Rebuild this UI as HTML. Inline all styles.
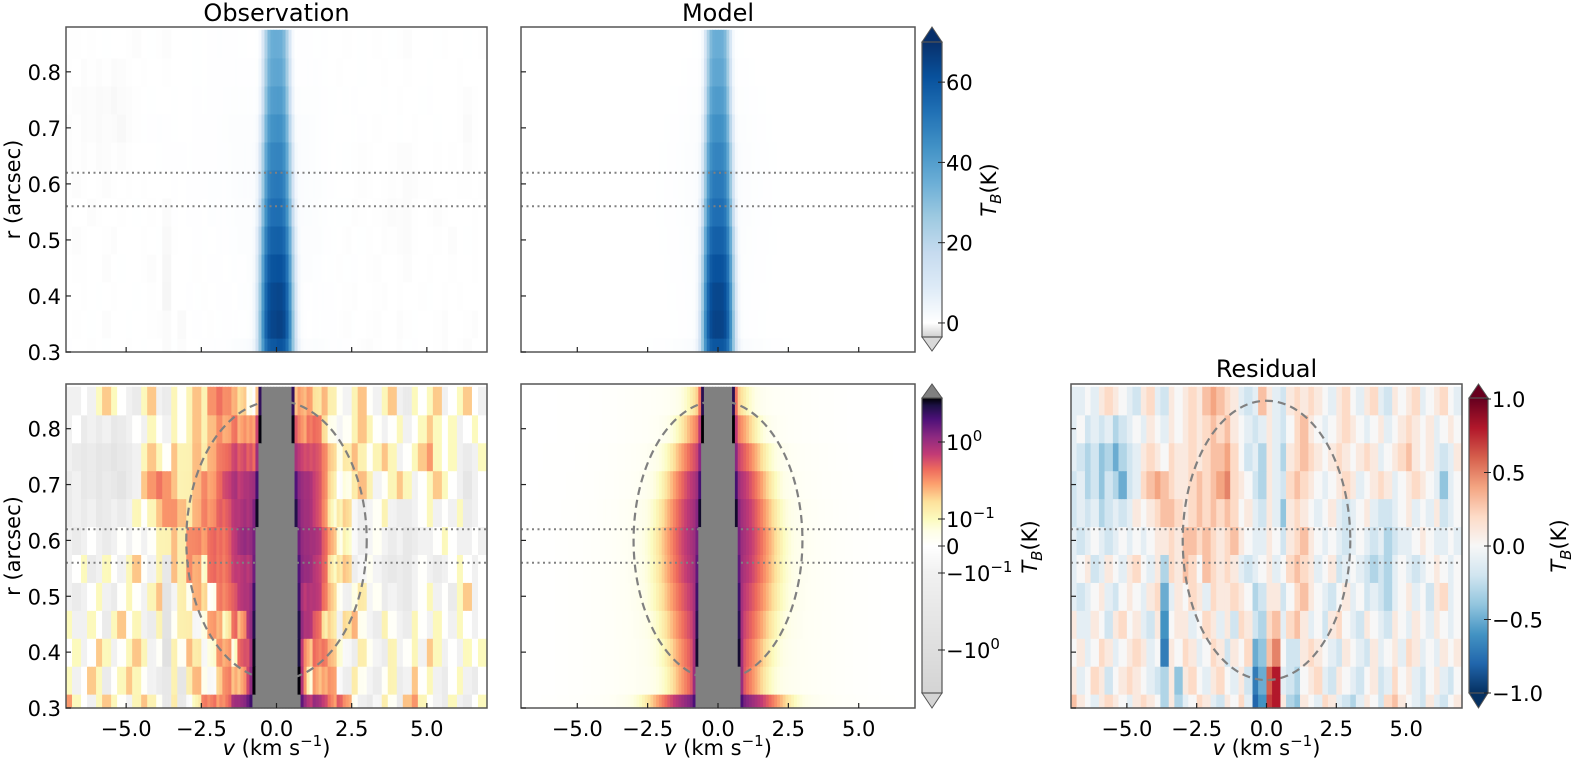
<!DOCTYPE html>
<html><head><meta charset="utf-8">
<style>
html,body{margin:0;padding:0;background:#fff;}
svg{display:block;font-family:"DejaVu Sans","Liberation Sans",sans-serif;}
</style></head>
<body>
<svg id="fig" xmlns="http://www.w3.org/2000/svg" width="1578" height="762" viewBox="0 0 1578 762">
</svg>
<script>
// ---- data ----
const rowR = [0.30,0.35,0.40,0.45,0.50,0.55,0.60,0.65,0.70,0.75,0.80,0.85];
// saturated core component (K) and half-width (km/s) per row
const coreAmp = [58,64,63,60,56,52,49,46,43,40,37,35];
const coreWid = [0.58,0.57,0.56,0.55,0.54,0.52,0.50,0.49,0.47,0.45,0.44,0.43];
// broad wing component per row
const wingAmp = [1.9,0.9,0.9,1.0,1.1,1.3,1.4,1.4,1.3,0.9,0.6,0.35];
const wingSig = [1.05,0.8,0.85,0.9,0.95,0.95,0.95,0.9,0.85,0.8,0.7,0.6];
// faint extended floor per row
const floorAmp = [0.06,0.05,0.05,0.05,0.05,0.05,0.05,0.05,0.04,0.04,0.03,0.03];
const floorSig = [2.6,2.5,2.5,2.5,2.5,2.5,2.5,2.4,2.4,2.3,2.2,2.2];
// residual (tenths of K), 56 channels of 0.25 km/s from -7 to 7, row 0 = r 0.3
const residualTenths = [
[3,1,0,-1,1,2,1,0,-1,1,2,1,0,-3,1,-3,-1,0,2,1,-1,-2,1,0,2,-1,-8,-6,7,8,1,-3,-4,1,0,-1,2,1,-1,-2,-3,-1,1,0,-2,2,3,1,0,-1,-2,1,-1,-2,0,1],
[1,-1,0,2,1,-2,0,1,2,1,0,-1,-2,-3,1,-4,1,2,0,-1,1,2,0,-1,1,-2,-7,-5,6,8,-1,-2,-3,0,1,2,-1,-2,1,0,-1,-2,0,1,-2,-1,2,0,1,-1,-2,0,1,-1,-2,0],
[0,1,-1,0,2,1,-1,0,1,2,1,-1,0,-7,1,0,2,1,-1,0,2,1,-2,1,0,2,-5,-4,3,5,0,-2,-2,1,2,1,0,-1,-2,1,0,-1,-2,1,-1,0,1,-1,2,1,-1,0,-1,1,0,1],
[1,-1,-1,1,0,-2,1,2,0,1,-1,-2,1,-6,0,1,1,-1,0,2,1,-1,1,-2,2,1,-2,-3,2,3,-1,2,3,1,-1,0,-2,1,2,0,-1,-2,1,0,-1,-2,1,0,-1,1,0,-1,1,0,-1,0],
[-1,-2,-1,0,1,-1,-2,0,1,0,-1,1,2,-5,-1,1,0,2,1,-1,2,1,1,2,1,0,-3,-2,1,1,-2,0,2,3,1,0,-1,-2,0,1,-1,0,-2,-1,-2,-3,-1,0,1,-1,0,-2,1,2,-1,0],
[-1,0,1,-2,-1,1,0,-1,1,2,0,-1,1,-3,2,1,3,2,0,3,2,1,2,1,-1,-2,-1,0,1,-1,0,2,3,2,1,-1,0,1,-2,-1,0,-1,-2,-3,-2,-3,-1,0,-1,-2,-1,0,1,0,-1,0],
[-1,-2,-1,0,-1,-2,-1,0,-1,0,-1,0,1,1,2,1,3,3,2,3,2,1,2,3,1,0,-1,-1,1,0,-2,1,2,3,1,0,-1,0,-1,-2,-1,0,-1,-2,-1,-3,-2,-1,-1,0,1,0,-1,-1,0,-1],
[-2,-1,-2,-1,-3,-2,-1,-2,-1,1,0,1,2,3,3,2,1,2,3,2,3,2,3,2,0,1,-1,-2,1,-1,-4,1,2,1,0,-1,0,1,-1,-2,-1,0,1,-1,-2,-2,-1,0,1,-1,0,-1,1,-2,-1,0],
[-2,-1,-3,-2,-4,-2,-3,-5,-2,-1,2,3,4,3,2,1,1,2,3,2,3,4,5,2,1,0,-2,-3,1,-1,-2,2,3,2,1,0,-1,0,1,2,1,-1,0,1,2,1,-1,0,1,2,1,0,-1,-4,-1,0],
[-1,-2,-3,-2,-4,-3,-5,-3,-2,-1,1,2,1,0,2,1,1,2,1,2,3,3,4,2,0,-2,-1,-3,1,-1,-3,1,2,3,2,1,0,1,2,1,0,1,2,1,-1,0,1,2,3,1,0,1,-1,-2,-1,1],
[-1,0,-2,-1,-2,-1,-3,-2,-1,0,-1,1,0,-1,1,0,1,2,1,2,3,2,3,1,0,-1,-2,-1,1,-1,-2,0,2,3,1,0,-1,0,1,2,1,0,-1,0,1,-1,0,1,2,1,0,1,-1,0,1,0],
[-1,-1,0,-1,1,2,1,0,-1,-2,1,2,-1,-2,1,0,1,2,1,3,4,3,2,1,-1,-2,-1,3,1,-1,-2,1,2,1,2,1,0,-1,1,2,0,-1,1,2,-1,-2,1,0,1,2,-1,0,1,2,0,-1]
];
const xTicks = [-5,-2.5,0,2.5,5];
const xTickLabels = ["−5.0","−2.5","0.0","2.5","5.0"];
const yTicks = [0.3,0.4,0.5,0.6,0.7,0.8];
const yTickLabels = ["0.3","0.4","0.5","0.6","0.7","0.8"];
const hLines = [0.62,0.56];
const ellipse = {v0:0, r0:0.6, av:3.0, ar:0.25};
const topCbTicks = [0,20,40,60];
const symCbTicks = [1,0.1,0,-0.1,-1];
const symCbLabels = ["10|0","10|−1","0","−10|−1","−10|0"];
const resCbTicks = [1,0.5,0,-0.5,-1];
const resCbLabels = ["1.0","0.5","0.0","−0.5","−1.0"];

// ---- geometry ----
const NS="http://www.w3.org/2000/svg";
const svg=document.getElementById('fig');
const VMIN=-7,VMAX=7,RMIN=0.3,RMAX=0.88;
const FS=21;
const panels={
 obsTop:{x0:66,x1:487,y0:27,y1:352},
 modTop:{x0:521,x1:915,y0:27,y1:352},
 obsBot:{x0:66,x1:487,y0:384,y1:708},
 modBot:{x0:521,x1:915,y0:384,y1:708},
 res:{x0:1071,x1:1462,y0:384,y1:708}
};
function sx(p,v){return p.x0+(v-VMIN)/(VMAX-VMIN)*(p.x1-p.x0);}
function sy(p,r){return p.y1-(r-RMIN)/(RMAX-RMIN)*(p.y1-p.y0);}
function mk(tag,attrs,parent){const e=document.createElementNS(NS,tag);for(const k in attrs)e.setAttribute(k,attrs[k]);(parent||svg).appendChild(e);return e;}

// ---- colormaps ----
function hex(h){return [parseInt(h.substr(1,2),16),parseInt(h.substr(3,2),16),parseInt(h.substr(5,2),16)];}
function interp(stops,t){
 t=Math.max(0,Math.min(1,t));
 for(let i=1;i<stops.length;i++){if(t<=stops[i][0]){const a=stops[i-1],b=stops[i];const f=(t-a[0])/(b[0]-a[0]||1);const ca=hex(a[1]),cb=hex(b[1]);return 'rgb('+ca.map((c,k)=>Math.round(c+(cb[k]-c)*f)).join(',')+')';}}
 return stops[stops.length-1][1];
}
const blues=[[0,'#ffffff'],[0.125,'#deebf7'],[0.25,'#c6dbef'],[0.375,'#9ecae1'],[0.5,'#6baed6'],[0.625,'#4292c6'],[0.75,'#2171b5'],[0.875,'#08519c'],[1,'#08306b']];
function topColor(T){ if(T>=0) return interp(blues,T/70); return interp([[0,'#ffffff'],[1,'#d0d0d0']],-T/3.5);}
const magma=[[0,'#ffffff'],[0.1,'#fefee6'],[0.18,'#fcfbbf'],[0.3,'#fde19b'],[0.42,'#fca06e'],[0.52,'#ee6a5d'],[0.62,'#c33b75'],[0.74,'#8c2981'],[0.86,'#4c1078'],[0.95,'#1c1044'],[1,'#000004']];
const greys=[[0,'#ffffff'],[0.18,'#f1f1f1'],[1,'#d4d4d4']];
function symPos(x){const a=Math.abs(x);const p=a<=0.1?a/0.1*27:27+77*Math.log10(a/0.1);return x<0?-p:p;}
const SYM_TOP=symPos(3.7), SYM_BOT=-symPos(-3.5);
function symColor(T){const p=symPos(T);if(p>SYM_TOP)return '#808080';if(p>=0)return interp(magma,p/SYM_TOP);if(-p>SYM_BOT)return '#d0d0d0';return interp(greys,-p/SYM_BOT);}
const rdbu=[[0,'#053061'],[0.1,'#2166ac'],[0.2,'#4393c3'],[0.3,'#92c5de'],[0.4,'#d1e5f0'],[0.5,'#f7f7f7'],[0.6,'#fddbc7'],[0.7,'#f4a582'],[0.8,'#d6604d'],[0.9,'#b2182b'],[1,'#67001f']];
function resColor(x){return interp(rdbu,(x+1)/2);}

// ---- model / data ----
function model(v,k){
 const q=v/coreWid[k];
 return coreAmp[k]*Math.exp(-q*q*q*q)
  +wingAmp[k]*Math.exp(-v*v/(2*wingSig[k]*wingSig[k]))
  +floorAmp[k]*Math.exp(-v*v/(2*floorSig[k]*floorSig[k]));
}
function resid(v,k){let j=Math.floor((v-VMIN)/0.25);j=Math.max(0,Math.min(55,j));return residualTenths[k][j]/10;}

const NCH=140, DV=(VMAX-VMIN)/NCH;
function drawMap(name,p,valueFn,colorFn){
 const g=mk('g',{});
 
 
 for(let k=0;k<rowR.length;k++){
  const rA=Math.max(RMIN,rowR[k]-0.025), rB=Math.min(RMAX,rowR[k]+0.025);
  const yA=sy(p,rB), yB=sy(p,rA);
  for(let i=0;i<NCH;i++){
   const v=VMIN+DV*(i+0.5);
   const xa=sx(p,VMIN+DV*i), xb=sx(p,VMIN+DV*(i+1));
   const c=mk('rect',{x:xa.toFixed(2),y:yA.toFixed(2),width:(xb-xa+0.6).toFixed(2),height:(yB-yA+0.6).toFixed(2),fill:colorFn(valueFn(v,k))},g);
   
   
  }
 }
}
drawMap('observation-top',panels.obsTop,(v,k)=>model(v,k)+resid(v,k),topColor);
drawMap('model-top',panels.modTop,(v,k)=>model(v,k),topColor);
drawMap('observation-log',panels.obsBot,(v,k)=>model(v,k)+resid(v,k),symColor);
drawMap('model-log',panels.modBot,(v,k)=>model(v,k),symColor);
drawMap('residual',panels.res,(v,k)=>resid(v,k),resColor);

// ---- overlays, axes ----
function text(str,attrs,name){const t=mk('text',Object.assign({'font-size':FS,fill:'#000'},attrs));t.innerHTML=str;return t;}
const pk={obsTop:[true,false],modTop:[false,false],obsBot:[true,true],modBot:[false,true],res:[false,true]};
for(const key in panels){
 const p=panels[key];
 hLines.forEach(r=>{const l=mk('line',{x1:p.x0,x2:p.x1,y1:sy(p,r),y2:sy(p,r),stroke:'#808080','stroke-width':2,'stroke-dasharray':'2,3.5'});
  });
 if(key==='obsBot'||key==='modBot'||key==='res'){
  const cx=sx(p,ellipse.v0),cy=sy(p,ellipse.r0);
  const e=mk('ellipse',{cx:cx,cy:cy,rx:sx(p,ellipse.v0+ellipse.av)-cx,ry:cy-sy(p,ellipse.r0+ellipse.ar),fill:'none',stroke:'#808080','stroke-width':2.2,'stroke-dasharray':'8,5'});
  
 }
 const fr=mk('rect',{x:p.x0,y:p.y0,width:p.x1-p.x0,height:p.y1-p.y0,fill:'none',stroke:'#555','stroke-width':1.5});
 
 xTicks.forEach((v,i)=>{const x=sx(p,v);mk('line',{x1:x,x2:x,y1:p.y1,y2:p.y1-5,stroke:'#222','stroke-width':1.2});
  if(pk[key][1]) text(xTickLabels[i],{x:x,y:p.y1+28,'text-anchor':'middle'},'x-tick-label');});
 yTicks.forEach((r,i)=>{const y=sy(p,r);mk('line',{x1:p.x0,x2:p.x0+5,y1:y,y2:y,stroke:'#222','stroke-width':1.2});
  if(pk[key][0]) text(yTickLabels[i],{x:p.x0-5,y:y+8,'text-anchor':'end'},'y-tick-label');});
 if(pk[key][1]) text('<tspan font-style="italic">v</tspan> (km s<tspan font-size="15" dy="-9">−1</tspan><tspan dy="9">)</tspan>',{x:(p.x0+p.x1)/2,y:755,'text-anchor':'middle'},'x-axis-title');
 if(pk[key][0]) text('r (arcsec)',{x:0,y:0,'text-anchor':'middle',transform:'translate(20,'+((p.y0+p.y1)/2)+') rotate(-90)'},'y-axis-title');
}
text('Observation',{x:(66+487)/2,y:21,'text-anchor':'middle','font-size':24},'observation-title');
text('Model',{x:(521+915)/2,y:21,'text-anchor':'middle','font-size':24},'model-title');
text('Residual',{x:(1071+1462)/2,y:377,'text-anchor':'middle','font-size':24},'residual-title');

// ---- colorbars ----
function colorbar(name,x0,x1,yTip0,yb0,yb1,yTip1,colorAtY,topC,botC){
 const g=mk('g',{});
 for(let y=yb0;y<yb1;y++) mk('rect',{x:x0,y:y,width:x1-x0,height:1.2,fill:colorAtY(y+0.5)},g);
 const xm=(x0+x1)/2;
 mk('polygon',{points:`${x0},${yb0} ${xm},${yTip0} ${x1},${yb0}`,fill:topC,stroke:'#555','stroke-width':1},g);
 mk('polygon',{points:`${x0},${yb1} ${xm},${yTip1} ${x1},${yb1}`,fill:botC,stroke:'#555','stroke-width':1},g);
 mk('rect',{x:x0,y:yb0,width:x1-x0,height:yb1-yb0,fill:'none',stroke:'#555','stroke-width':1.2},g);
}
function cbLabel(x,y){text('<tspan font-style="italic">T</tspan><tspan font-size="15" font-style="italic" dy="5">B</tspan><tspan dy="-5">(K)</tspan>',{x:0,y:0,'text-anchor':'middle',transform:`translate(${x},${y}) rotate(-90)`},'colorbar-label');}
// top (linear)
const tY=v=>42+(70-v)/73.5*295;
colorbar('colorbar-linear',922,942,27,42,337,351,y=>topColor(70-(y-42)/295*73.5),'#08306b','#d9d9d9');
topCbTicks.forEach(v=>{mk('line',{x1:938,x2:945,y1:tY(v),y2:tY(v),stroke:'#222'});text(String(v),{x:946,y:tY(v)+8},'colorbar-tick-label');});
cbLabel(996,190);
// bottom (symlog)
const sY=v=>546-symPos(v);
colorbar('colorbar-symlog',922,942,384,398,693,708,y=>{const p=546-y;return p>=0?interp(magma,p/SYM_TOP):interp(greys,-p/SYM_BOT);},'#808080','#d4d4d4');
symCbTicks.forEach((v,i)=>{mk('line',{x1:938,x2:945,y1:sY(v),y2:sY(v),stroke:'#222'});
 const parts=symCbLabels[i].split('|');
 const lab=parts.length>1?parts[0]+'<tspan font-size="15" dy="-9">'+parts[1]+'</tspan>':parts[0];
 text(lab,{x:946,y:sY(v)+8},'colorbar-tick-label');});
cbLabel(1037,547);
// residual
const rY=v=>546-v*147;
colorbar('colorbar-residual',1469,1488,384,398,693,708,y=>resColor((546-y)/147),'#67001f','#053061');
resCbTicks.forEach((v,i)=>{mk('line',{x1:1484,x2:1491,y1:rY(v),y2:rY(v),stroke:'#222'});text(resCbLabels[i],{x:1492,y:rY(v)+8},'colorbar-tick-label');});
cbLabel(1566,546);
</script>
</body></html>
